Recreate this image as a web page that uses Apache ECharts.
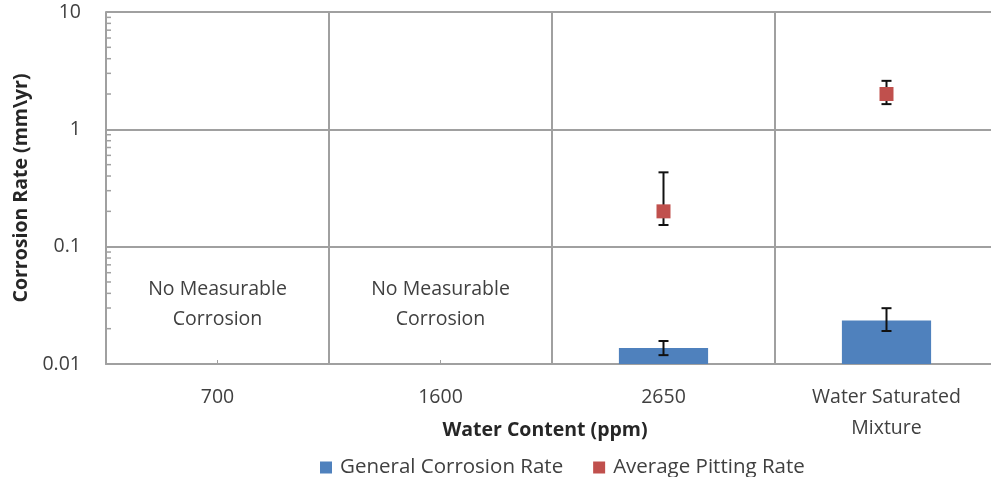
<!DOCTYPE html>
<html>
<head>
<meta charset="utf-8">
<script src="https://cdn.jsdelivr.net/npm/echarts@6/dist/echarts.min.js"></script>
<style>
  html, body { margin: 0; padding: 0; background: #fff; }
  #chart { width: 991px; height: 477px; }
</style>
</head>
<body>
<div id="chart"></div>
<script>
// Water content categories (x axis)
const categories = ['700', '1600', '2650', 'Water Saturated\nMixture'];

// General corrosion rate (mm/yr) with error range
const generalRate = [null, null, 0.0137, 0.0235];
const generalLow  = [null, null, 0.0119, 0.0191];
const generalHigh = [null, null, 0.0157, 0.0299];

// Average pitting rate (mm/yr) with error range
const pittingRate = [null, null, 0.20, 2.0];
const pittingLow  = [null, null, 0.153, 1.64];
const pittingHigh = [null, null, 0.43, 2.59];

// Notes for the categories without measurable corrosion
const noteCategories = [0, 1];
const noteText = 'No Measurable\nCorrosion';

// Y axis tick values
const yTicks = [0.01, 0.1, 1, 10];

const FONT = '"Open Sans", "Liberation Sans", sans-serif';
const GRID_COLOR = '#a0a0a0';
const TEXT_COLOR = '#404040';
const FS = 19.5;

// minor log ticks (2..9 within each decade)
const minorTicks = [];
for (let d = 0; d < yTicks.length - 1; d++) {
  for (let k = 2; k <= 9; k++) minorTicks.push(yTicks[d] * k);
}

function errorItems(low, high) {
  const out = [];
  low.forEach((l, i) => { if (l != null) out.push([i, l, high[i]]); });
  return out;
}

function renderError(params, api) {
  const lo = api.coord([api.value(0), api.value(1)]);
  const hi = api.coord([api.value(0), api.value(2)]);
  const cap = 5;
  const style = { stroke: '#111', lineWidth: 2 };
  return {
    type: 'group',
    children: [
      { type: 'line', shape: { x1: lo[0], y1: lo[1], x2: hi[0], y2: hi[1] }, style },
      { type: 'line', shape: { x1: lo[0] - cap, y1: lo[1], x2: lo[0] + cap, y2: lo[1] }, style },
      { type: 'line', shape: { x1: hi[0] - cap, y1: hi[1], x2: hi[0] + cap, y2: hi[1] }, style }
    ]
  };
}

const chart = echarts.init(document.getElementById('chart'), null, { renderer: 'canvas' });

chart.setOption({
  animation: false,
  textStyle: { fontFamily: FONT },
  grid: { left: 106, width: 892, top: 12, height: 352, containLabel: false, outerBoundsMode: 'none' },
  legend: {
    top: 452,
    left: 315,
    itemWidth: 12,
    itemHeight: 12,
    itemGap: 30,
    textStyle: { fontFamily: FONT, fontSize: 20.5, color: TEXT_COLOR, padding: [0, 0, 0, 3] },
    data: [
      { name: 'General Corrosion Rate', icon: 'rect' },
      { name: 'Average Pitting Rate', icon: 'rect' }
    ]
  },
  xAxis: {
    type: 'category',
    data: categories,
    name: 'Water Content (ppm)',
    nameLocation: 'middle',
    nameGap: 56,
    nameMoveOverlap: false,
    nameTextStyle: { fontFamily: FONT, fontSize: FS, fontWeight: 'bold', color: '#262626', padding: [0, 14, 0, 0] },
    axisLine: { show: true, lineStyle: { color: GRID_COLOR, width: 2 } },
    axisTick: { show: true, inside: true, alignWithLabel: true, length: 4, lineStyle: { color: GRID_COLOR, width: 1 } },
    axisLabel: { fontFamily: FONT, fontSize: FS, color: TEXT_COLOR, margin: 18, lineHeight: 31, interval: 0 },
    splitLine: { show: true, interval: 0, lineStyle: { color: GRID_COLOR, width: 2 } }
  },
  yAxis: {
    type: 'log',
    logBase: 10,
    min: 0.01,
    max: 10,
    startValue: 0.01,
    name: 'Corrosion Rate (mm\\yr)',
    nameLocation: 'middle',
    nameGap: 75,
    nameMoveOverlap: false,
    nameTextStyle: { fontFamily: FONT, fontSize: FS, fontWeight: 'bold', color: '#262626' },
    axisLine: { show: true, lineStyle: { color: GRID_COLOR, width: 2 } },
    axisTick: { show: false },
    axisLabel: {
      fontFamily: FONT, fontSize: FS, color: TEXT_COLOR, margin: 25,
      formatter: v => {
        const t = yTicks.find(x => Math.abs(Math.log10(x) - Math.log10(v)) < 1e-6);
        return t != null ? String(t) : '';
      }
    },
    splitLine: { show: true, lineStyle: { color: GRID_COLOR, width: 2 } }
  },
  series: [
    {
      name: 'General Corrosion Rate',
      type: 'bar',
      data: generalRate,
      barWidth: '40%',
      itemStyle: { color: '#4f81bd', opacity: 1 },
      z: 2
    },
    {
      name: 'General Corrosion Rate error',
      type: 'custom',
      renderItem: renderError,
      data: errorItems(generalLow, generalHigh),
      encode: { x: 0, y: [1, 2] },
      silent: true,
      z: 3
    },
    {
      name: 'Average Pitting Rate error',
      type: 'custom',
      renderItem: renderError,
      data: errorItems(pittingLow, pittingHigh),
      encode: { x: 0, y: [1, 2] },
      silent: true,
      z: 3
    },
    {
      name: 'Average Pitting Rate',
      type: 'scatter',
      data: pittingRate,
      symbol: 'rect',
      symbolSize: 14,
      itemStyle: { color: '#c0504d', opacity: 1 },
      z: 4
    },
    {
      // minor ticks on the inner side of the y axis
      name: 'minor ticks',
      type: 'custom',
      silent: true,
      data: minorTicks.map(v => [0, v]),
      encode: { x: 0, y: 1 },
      renderItem: (params, api) => {
        const p = api.coord([0, api.value(1)]);
        const x0 = p[0] - api.size([1, 0])[0] / 2;
        return {
          type: 'line',
          shape: { x1: x0, y1: p[1], x2: x0 + 5, y2: p[1] },
          style: { stroke: GRID_COLOR, lineWidth: 1.5 }
        };
      },
      z: 1
    },
    {
      // notes for categories with no measurable corrosion
      name: 'notes',
      type: 'custom',
      silent: true,
      data: noteCategories.map(c => [c, 0.0325]),
      encode: { x: 0, y: 1 },
      renderItem: (params, api) => {
        const p = api.coord([api.value(0), api.value(1)]);
        return {
          type: 'text',
          x: p[0],
          y: p[1],
          style: {
            text: noteText,
            fontFamily: FONT,
            fontSize: FS,
            lineHeight: 30,
            fill: TEXT_COLOR,
            align: 'center',
            verticalAlign: 'middle'
          }
        };
      },
      z: 5
    }
  ]
});
</script>
</body>
</html>
